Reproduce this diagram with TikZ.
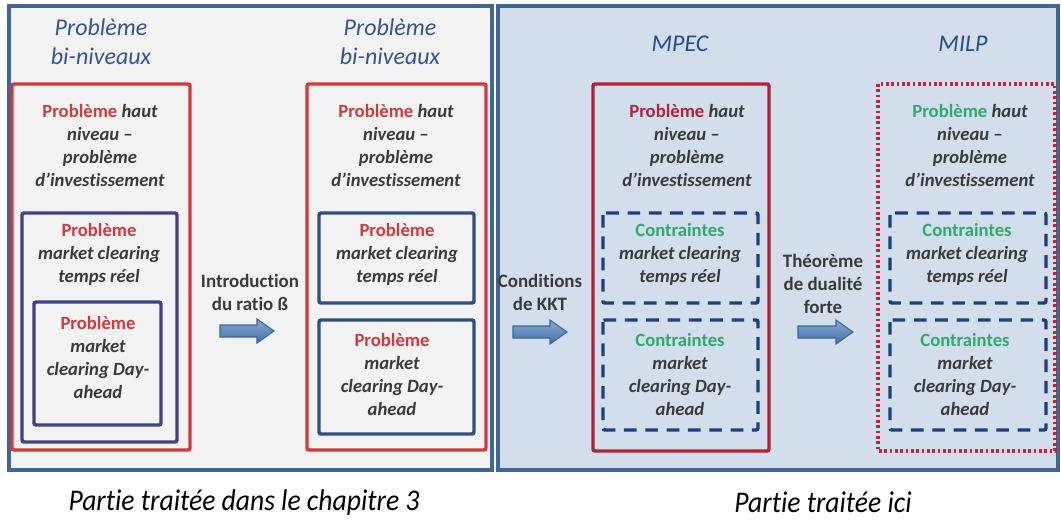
\documentclass[tikz,border=0pt]{standalone}
\usepackage{fontspec}
\setmainfont{Carlito}[Ligatures=NoCommon]
\definecolor{frameblue}{HTML}{3E6797}
\definecolor{leftfill}{HTML}{F3F3F3}
\definecolor{rightfill}{HTML}{D2DEEC}
\definecolor{titleblue}{HTML}{36548F}
\definecolor{titleblueB}{HTML}{2A4A88}
\definecolor{redA}{HTML}{D03A3F}
\definecolor{redB}{HTML}{B32237}
\definecolor{dotred}{HTML}{C0233A}
\definecolor{navyA}{HTML}{424283}
\definecolor{navyB}{HTML}{2F4F82}
\definecolor{dashblue}{HTML}{1F3F7C}
\definecolor{probgreen}{HTML}{2EAB6C}
\definecolor{bodygray}{HTML}{3A3A3A}
\definecolor{arrowtop}{HTML}{86A8D4}
\definecolor{arrowbot}{HTML}{4470A8}
\definecolor{arrowedge}{HTML}{3C6699}
\begin{document}
\begin{tikzpicture}[x=0.75pt,y=-0.75pt,
  frame/.style={draw=frameblue,line width=2.7pt},
  box/.style={line width=2.6pt,rounded corners=1.5pt},
  dashbox/.style={draw=dashblue,line width=2.6pt,dash pattern=on 9.5pt off 6.5pt,rounded corners=1.5pt},
  dotbox/.style={draw=dotred,line width=2.6pt,dash pattern=on 2pt off 2pt},
  body/.style={align=center,font=\fontsize{14}{17.25}\selectfont\bfseries\itshape,text=bodygray,inner sep=0pt},
  ttl/.style={align=center,font=\fontsize{18}{21.75}\selectfont\itshape,text=titleblue,inner sep=0pt},
  lbl/.style={align=center,font=\fontsize{14.2}{17.25}\selectfont\bfseries,text=bodygray,inner sep=0pt},
  foot/.style={font=\fontsize{22.5}{26}\selectfont\itshape,text=black,inner sep=0pt},
  blockarrow/.style={draw=arrowedge,line width=0.8pt,top color=arrowtop,bottom color=arrowbot}
]
\useasboundingbox (0,0) rectangle (1061,519);
\fill[white] (0,0) rectangle (1061,519);
% big frames
\draw[frame,fill=leftfill] (9,6) rectangle (492,470);
\draw[frame,fill=rightfill] (498,6) rectangle (1058,470);

% ---------- column 1 ----------
\node[ttl] (t1) at (101,41.5) {Problème\\bi-niveaux};
\draw[box,draw=redA] (12,84) rectangle (190,450);
\node[body] (c1top) at (100,145.5) {{\upshape\color{redA}Problème} haut\\niveau –\\problème\\d’investissement};
\draw[box,draw=navyA] (22,213) rectangle (177,442);
\node[body] (c1rt) at (99,254) {{\upshape\color{redA}Problème}\\market clearing\\temps réel};
\draw[box,draw=navyA] (34,302) rectangle (161,425);
\node[body] (c1da) at (98,357.5) {{\upshape\color{redA}Problème}\\market\\clearing Day-\\ahead};

% arrow 1
\node[lbl] (a1lbl) at (250,292.5) {Introduction\\du ratio ß};
\draw[blockarrow] (220,325) -- (257,325) -- (257,319) -- (274,331) -- (257,343) -- (257,337) -- (220,337) -- cycle;

% ---------- column 2 ----------
\node[ttl] (t2) at (390,41.5) {Problème\\bi-niveaux};
\draw[box,draw=redA] (307,84) rectangle (486,450);
\node[body] (c2top) at (396,145.5) {{\upshape\color{redA}Problème} haut\\niveau –\\problème\\d’investissement};
\draw[box,draw=navyB] (319,213) rectangle (474,303);
\node[body] (c2rt) at (397,254) {{\upshape\color{redA}Problème}\\market clearing\\temps réel};
\draw[box,draw=navyB] (319,320) rectangle (474,434);
\node[body] (c2da) at (392,374.5) {{\upshape\color{redA}Problème}\\market\\clearing Day-\\ahead};

% ---------- arrow 2 ----------
\node[lbl] (a2lbl) at (540,292.5) {Conditions\\de KKT};
\draw[blockarrow] (513,326) -- (550,326) -- (550,320) -- (567,332) -- (550,344) -- (550,338) -- (513,338) -- cycle;

% ---------- column 3 (MPEC) ----------
\node[ttl,text=titleblueB] (t3) at (680,44) {MPEC};
\draw[box,draw=redB] (593,84) rectangle (769,451);
\node[body] (c3top) at (687,145.5) {{\upshape\color{redB}Problème} haut\\niveau –\\problème\\d’investissement};
\draw[dashbox] (603,213) rectangle (758,303);
\node[body] (c3rt) at (680,254) {{\upshape\color{probgreen}Contraintes}\\market clearing\\temps réel};
\draw[dashbox] (603,320) rectangle (758,430);
\node[body] (c3da) at (680,374.5) {{\upshape\color{probgreen}Contraintes}\\market\\clearing Day-\\ahead};

% ---------- arrow 3 ----------
\node[lbl] (a3lbl) at (823,283.5) {Théorème\\de dualité\\forte};
\draw[blockarrow] (798,326) -- (836,326) -- (836,320) -- (853,332) -- (836,344) -- (836,338) -- (798,338) -- cycle;

% ---------- column 4 (MILP) ----------
\node[ttl,text=titleblueB] (t4) at (963,44) {MILP};
\draw[dotbox] (878,84) rectangle (1055,451);
\node[body] (c4top) at (970,145.5) {{\upshape\color{probgreen}Problème} haut\\niveau –\\problème\\d’investissement};
\draw[dashbox] (890,213) rectangle (1046,303);
\node[body] (c4rt) at (967,254) {{\upshape\color{probgreen}Contraintes}\\market clearing\\temps réel};
\draw[dashbox] (890,320) rectangle (1046,430);
\node[body] (c4da) at (965,374.5) {{\upshape\color{probgreen}Contraintes}\\market\\clearing Day-\\ahead};

% footers
\node[foot] (f1) at (244,502) {\scalebox{0.92}[1]{Partie traitée dans le chapitre 3}};
\node[foot] (f2) at (823,502) {\scalebox{0.92}[1]{Partie traitée ici}};
\end{tikzpicture}
\end{document}
